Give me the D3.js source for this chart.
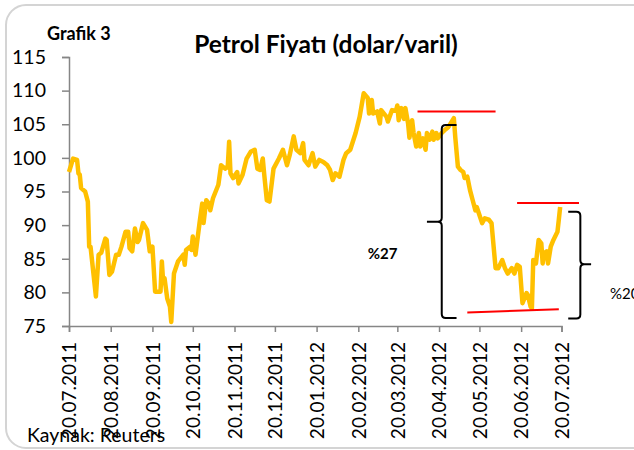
<!DOCTYPE html>
<html>
<head>
<meta charset="utf-8">
<script src="https://cdn.jsdelivr.net/npm/d3@7"></script>
<style>
  body { margin: 0; background: #fff; }
  text { font-family: Lato, "Open Sans", sans-serif; }
</style>
</head>
<body>
<div class="chart"></div>
<script>
// petrol price, daily-ish points

var dates = ["2011-07-20","2011-07-23","2011-07-26","2011-07-27","2011-07-28","2011-07-29",
  "2011-08-01","2011-08-03","2011-08-04","2011-08-05","2011-08-09","2011-08-11","2011-08-13","2011-08-16","2011-08-17","2011-08-19","2011-08-21","2011-08-24","2011-08-26","2011-08-28","2011-08-31",
  "2011-09-02","2011-09-03","2011-09-05","2011-09-07","2011-09-09","2011-09-10","2011-09-13","2011-09-16","2011-09-18","2011-09-20","2011-09-22","2011-09-26","2011-09-27","2011-09-28","2011-09-29",
  "2011-10-01","2011-10-03","2011-10-04","2011-10-06","2011-10-09","2011-10-13","2011-10-14","2011-10-15","2011-10-18","2011-10-19","2011-10-20","2011-10-22","2011-10-25","2011-10-27","2011-10-28","2011-10-30",
  "2011-11-01","2011-11-02","2011-11-04","2011-11-08","2011-11-10","2011-11-13","2011-11-15","2011-11-16","2011-11-17","2011-11-19","2011-11-22","2011-11-23","2011-11-26","2011-11-29",
  "2011-12-02","2011-12-05","2011-12-07","2011-12-09","2011-12-11","2011-12-12","2011-12-14","2011-12-16","2011-12-19","2011-12-23","2011-12-26","2011-12-29","2011-12-31",
  "2012-01-03","2012-01-05","2012-01-08","2012-01-10","2012-01-11","2012-01-14","2012-01-17","2012-01-19","2012-01-22","2012-01-25","2012-01-28","2012-01-30",
  "2012-02-01","2012-02-03","2012-02-06","2012-02-09","2012-02-11","2012-02-14","2012-02-18","2012-02-21","2012-02-24","2012-02-27","2012-02-28",
  "2012-03-01","2012-03-02","2012-03-05","2012-03-07","2012-03-08","2012-03-12","2012-03-13","2012-03-16","2012-03-19","2012-03-20","2012-03-21","2012-03-23","2012-03-25","2012-03-26","2012-03-28","2012-03-29","2012-03-31",
  "2012-04-01","2012-04-03","2012-04-05","2012-04-06","2012-04-08","2012-04-10","2012-04-11","2012-04-13","2012-04-15","2012-04-16","2012-04-18","2012-04-19","2012-04-22","2012-04-24","2012-04-27",
  "2012-05-01","2012-05-02","2012-05-04","2012-05-06","2012-05-08","2012-05-09","2012-05-11","2012-05-13","2012-05-15","2012-05-17","2012-05-18","2012-05-20","2012-05-22","2012-05-24","2012-05-27","2012-05-29",
  "2012-06-01","2012-06-03","2012-06-06","2012-06-08","2012-06-10","2012-06-13","2012-06-15","2012-06-17","2012-06-19","2012-06-21","2012-06-24","2012-06-25","2012-06-27","2012-06-28","2012-06-29",
  "2012-07-01","2012-07-03","2012-07-05","2012-07-06","2012-07-07","2012-07-09","2012-07-10","2012-07-12","2012-07-14","2012-07-17","2012-07-18","2012-07-19"];

var prices = [97.9, 99.9, 99.7, 97.7, 97.5, 95.5,
  95.0, 93.5, 86.8, 86.8, 79.4, 85.6, 85.9, 88.0, 87.8, 82.6, 83.1, 85.6, 85.6, 86.8, 89.0,
  89.0, 86.6, 86.1, 89.5, 87.5, 87.8, 90.3, 89.3, 86.1, 86.8, 80.1, 80.1, 84.6, 81.4, 82.1,
  79.1, 77.9, 75.6, 82.8, 84.6, 85.6, 84.1, 86.3, 86.8, 86.3, 88.3, 85.6, 90.3, 93.2, 90.3, 93.7,
  93.2, 92.2, 94.0, 96.0, 98.9, 98.4, 98.7, 102.4, 97.7, 97.0, 97.9, 96.2, 97.5, 99.9,
  100.9, 101.2, 98.4, 98.2, 99.9, 97.7, 93.7, 93.5, 98.4, 99.9, 101.2, 98.9, 100.4,
  103.2, 101.2, 100.7, 102.2, 99.7, 98.9, 100.7, 98.7, 99.7, 99.4, 98.9, 98.2,
  96.7, 97.7, 97.2, 99.7, 100.7, 101.2, 103.7, 106.1, 109.6, 108.9, 106.6,
  108.6, 106.6, 106.9, 105.1, 107.1, 106.1, 105.4, 107.1, 107.0, 107.8, 105.6, 107.4, 105.8, 107.4, 105.1, 103.0, 105.6,
  103.8, 101.7, 103.7, 101.7, 102.9, 101.2, 103.7, 102.7, 103.9, 102.7, 103.7, 102.9, 103.7, 104.1, 104.6,
  105.9, 103.2, 98.7, 98.2, 97.9, 97.0, 97.2, 95.2, 93.7, 92.2, 92.7, 91.5, 90.3, 91.0, 90.8, 90.3,
  83.6, 83.6, 84.8, 83.6, 82.8, 83.6, 82.8, 84.1, 83.8, 78.4, 79.9, 79.6, 77.9, 77.6, 84.8,
  84.3, 87.8, 87.3, 84.3, 85.8, 86.1, 84.3, 86.8, 87.8, 89.0, 90.8, 92.7];

var tickDates = ["2011-07-20","2011-08-20","2011-09-20","2011-10-20","2011-11-20","2011-12-20",
  "2012-01-20","2012-02-20","2012-03-20","2012-04-20","2012-05-20","2012-06-20","2012-07-20"];
var yTicks = [75, 80, 85, 90, 95, 100, 105, 110, 115];

// red level lines: [date, value] pairs
var redLines = [
  [["2012-04-04", 106.9], ["2012-06-01", 106.9]],
  [["2012-06-17", 93.3], ["2012-08-02", 93.3]],
  [["2012-05-11", 77.0], ["2012-07-18", 77.5]]
];
// braces: spine date, end date, tip date, top, middle, bottom
var braces = [
  {spine: "2012-04-22", end: "2012-05-03", tip: "2012-04-11", top: 104.9, mid: 90.5, bottom: 76.2},
  {spine: "2012-08-03", end: "2012-07-25", tip: "2012-08-11", top: 92.0, mid: 84.2, bottom: 76.1}
];
var notes = [
  {text: "%27", date: "2012-02-27", value: 85.0, bold: true},
  {text: "%20", date: "2012-08-25", value: 79.0, bold: false}
];

var width = 634;
var height = 450;
var parse = d3.timeParse("%Y-%m-%d");

var data = d3.zip(dates, prices).map(function(d){ return {date: parse(d[0]), value: d[1]}; });

var svg = d3.select(".chart").append("svg")
  .attr("width", width)
  .attr("height", height);

// outer frame
svg.append("rect")
  .attr("x", 6).attr("y", 5)
  .attr("width", 660).attr("height", 443)
  .attr("rx", 20)
  .style("fill", "#fff")
  .style("stroke", "#d4d4d4")
  .style("stroke-width", 2);

var x = d3.scaleTime()
  .domain([parse("2011-07-20"), parse("2012-07-20")])
  .range([69, 561.5]);

var y = d3.scaleLinear()
  .domain([75, 115])
  .range([326, 57]);

// y axis
var yAxis = svg.append("g")
  .attr("transform", "translate(69,0)")
  .call(d3.axisLeft(y).tickValues(yTicks).tickSize(7).tickPadding(16));
yAxis.selectAll("text").style("font-size", "19.5px").style("fill", "#000");

// x axis
var xAxis = svg.append("g")
  .attr("transform", "translate(0,326)")
  .call(d3.axisBottom(x).tickValues(tickDates.map(parse)).tickSize(6).tickFormat(d3.timeFormat("%d.%m.%Y")));
xAxis.selectAll("text")
  .attr("transform", "rotate(-90)")
  .attr("text-anchor", "end")
  .attr("x", -16)
  .attr("y", 0)
  .attr("dy", "0.36em")
  .style("font-size", "19px")
  .style("fill", "#000");

svg.selectAll(".domain, .tick line")
  .style("stroke", "#868686")
  .style("stroke-width", 1.5);

// price line
var line = d3.line()
  .x(function(d){ return x(d.date); })
  .y(function(d){ return y(d.value); });

svg.append("path")
  .datum(data)
  .attr("d", line)
  .style("fill", "none")
  .style("stroke", "#FFC000")
  .style("stroke-width", 4.5)
  .style("stroke-linejoin", "round");

// annotations
svg.selectAll(".redline")
  .data(redLines)
  .enter().append("line")
  .attr("x1", function(d){ return x(parse(d[0][0])); })
  .attr("y1", function(d){ return y(d[0][1]); })
  .attr("x2", function(d){ return x(parse(d[1][0])); })
  .attr("y2", function(d){ return y(d[1][1]); })
  .style("stroke", "#ff0000")
  .style("stroke-width", 2);

var bracePath = function(b){
  var s = x(parse(b.spine)), e = x(parse(b.end)), t = x(parse(b.tip));
  var top = y(b.top), mid = y(b.mid), bot = y(b.bottom);
  var r = 4;
  return "M" + e + "," + top +
    " L" + (s + (e > s ? r : -r)) + "," + top +
    " Q" + s + "," + top + " " + s + "," + (top + r) +
    " L" + s + "," + (mid - r) +
    " Q" + s + "," + mid + " " + (s + (t > s ? r : -r)) + "," + mid +
    " L" + t + "," + mid +
    " M" + (s + (t > s ? r : -r)) + "," + mid +
    " Q" + s + "," + mid + " " + s + "," + (mid + r) +
    " L" + s + "," + (bot - r) +
    " Q" + s + "," + bot + " " + (s + (e > s ? r : -r)) + "," + bot +
    " L" + e + "," + bot;
};

svg.selectAll(".brace")
  .data(braces)
  .enter().append("path")
  .attr("d", bracePath)
  .style("fill", "none")
  .style("stroke", "#000")
  .style("stroke-width", 2);

svg.selectAll(".note")
  .data(notes)
  .enter().append("text")
  .attr("x", function(d){ return x(parse(d.date)); })
  .attr("y", function(d){ return y(d.value); })
  .text(function(d){ return d.text; })
  .style("font-size", "15px")
  .style("font-weight", function(d){ return d.bold ? "bold" : "normal"; });

// titles
svg.append("text")
  .attr("x", 47).attr("y", 40)
  .text("Grafik 3")
  .style("font-size", "18px")
  .style("font-weight", "bold");

svg.append("text")
  .attr("x", 326).attr("y", 53)
  .attr("text-anchor", "middle")
  .text("Petrol Fiyatı (dolar/varil)")
  .style("font-size", "24.5px")
  .style("font-weight", "bold");

svg.append("text")
  .attr("x", 27).attr("y", 442)
  .text("Kaynak: Reuters")
  .style("font-size", "19.5px");
</script>
</body>
</html>
